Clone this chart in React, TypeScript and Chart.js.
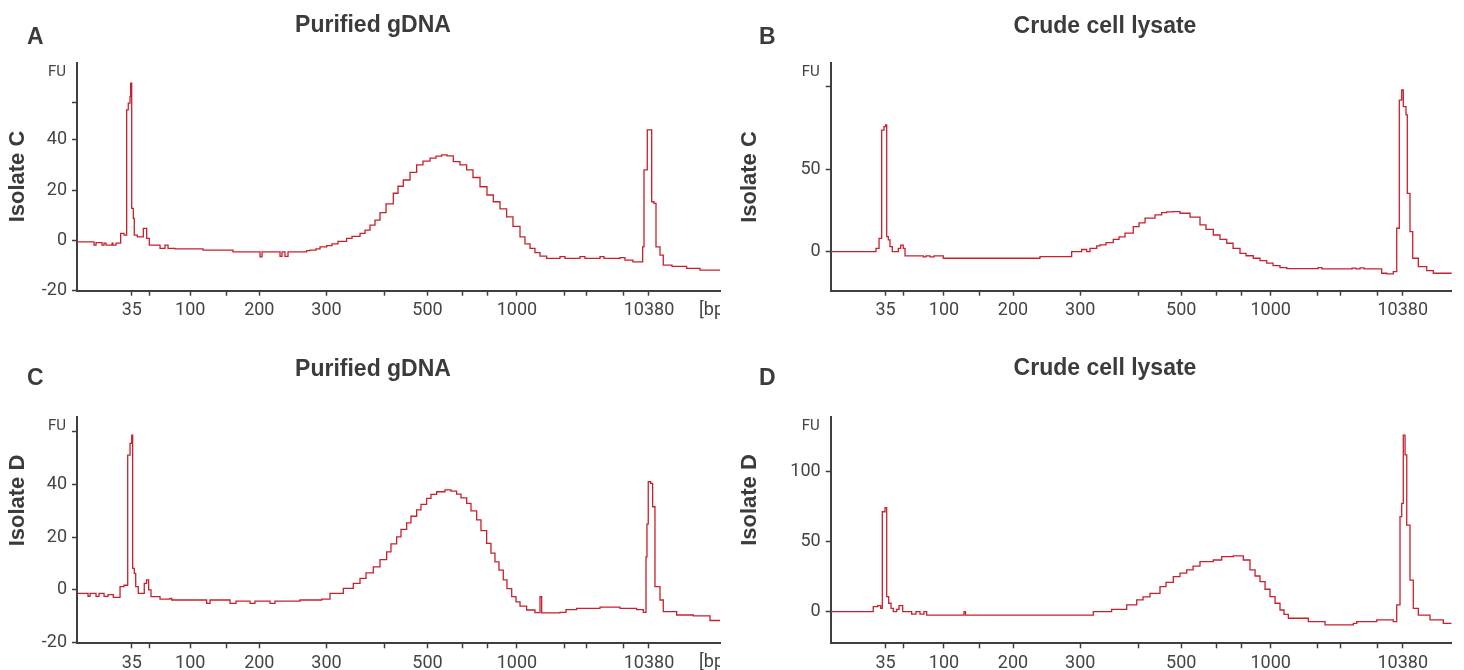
import React, { useEffect, useRef } from 'react';
import { Chart, registerables } from 'chart.js';

Chart.register(...registerables);

// ---- x axis (migration position, s) ----
const X_TICKS = [26.85, 29.06, 34.16, 38.63, 42.79, 51.19, 58.5, 63.81, 68.23, 71.33, 75.0, 80.88, 83.75, 88.34, 91.5];
const X_TICK_LABELS = ['35', '', '100', '', '200', '300', '', '500', '', '', '1000', '', '', '', '10380'];

// ---- y axes (FU) ----
const Y_TICKS_A = [-20, 0, 20, 40, 55];
const Y_LABELS_A = ['-20', '0', '20', '40', ''];
const Y_TICKS_B = [0, 50, 100];
const Y_LABELS_B = ['0', '50', ''];
const Y_TICKS_C = [-20, 0, 20, 40, 60];
const Y_LABELS_C = ['-20', '0', '20', '40', ''];
const Y_TICKS_D = [0, 50, 100];
const Y_LABELS_D = ['0', '50', '100'];

// ---- electropherogram traces: [position (s), FU] ----
const TRACE_A: [number, number][] = [
  [20.0, -0.7], [22.13, -2], [22.38, -1], [23.13, -2], [23.38, -1.2], [23.63, -2], [24.38, -1.2], [24.5, -2], [24.88, -1.2],
  [25.46, 2.7], [25.88, 2], [26.21, 52], [26.41, 54.7], [26.63, 57.3], [26.71, 62.7], [26.84, 12.7], [27.04, 8.7], [27.16, 2],
  [27.54, 1.3], [28.29, 4.7], [28.71, 0.7], [29.04, -2], [30.38, -3.3], [31.0, -2], [31.38, -3.3], [32.25, -3.5], [35.75, -4],
  [39.5, -4.7], [42.88, -6.7], [43.13, -4.7], [45.38, -6.5], [45.63, -4.7], [46.0, -6.5], [46.38, -4.7], [48.71, -4.2],
  [49.13, -4], [49.88, -3.5], [50.38, -2.7], [51.21, -2.2], [51.88, -1.5], [52.63, -0.5], [53.71, 0.7], [54.38, 1.5],
  [55.38, 2.7], [56.0, 4], [56.63, 6], [57.25, 8], [57.88, 11], [58.63, 14.5], [59.54, 18.7], [60.13, 21.5], [60.79, 24],
  [61.63, 27], [62.46, 30], [63.25, 31.5], [64.13, 32.7], [64.88, 33.5], [65.59, 34], [66.25, 33.6], [67.04, 31.3],
  [67.88, 30], [68.71, 28], [69.5, 25], [70.38, 21.3], [71.25, 18], [72.04, 15.3], [72.88, 12.5], [73.71, 9.3], [74.5, 5.5],
  [75.38, 1.3], [76.0, -1.5], [76.63, -3.3], [77.25, -5], [77.88, -6.4], [78.71, -7.3], [80.38, -6.6], [81.0, -7.3],
  [82.88, -6.6], [83.5, -7.3], [85.38, -6.6], [85.88, -7.3], [87.88, -7], [88.5, -8], [89.5, -8.7], [90.71, -2.7],
  [90.88, 28], [91.29, 44], [91.84, 15.3], [92.13, 14.7], [92.38, -2.7], [92.88, -6], [93.29, -10], [94.38, -10.5],
  [96.21, -11.3], [97.88, -12], [100.38, -12],
];

const TRACE_B: [number, number][] = [
  [20.0, 0], [25.66, 2], [26.04, 8], [26.37, 73.8], [26.66, 75.9], [26.87, 76.9], [27.0, 9.1], [27.2, 7.1], [27.41, 3],
  [27.7, 0], [28.45, 2], [28.75, 4], [29.07, 2], [29.29, -2.6], [31.57, -3.2], [31.91, -2.6], [32.41, -3.2], [32.91, -2.6],
  [34.07, -4], [46.16, -3], [50.12, 0], [51.37, 1.3], [52.0, 0], [52.41, 2], [53.25, 3.5], [53.66, 4.1], [54.41, 5.5],
  [55.32, 7.5], [56.04, 9], [56.79, 11.2], [57.82, 15.2], [58.54, 17.5], [59.29, 20.3], [60.54, 22.3], [61.37, 23.7],
  [62.0, 24.1], [62.79, 24.3], [63.66, 23.3], [64.91, 20.9], [66.16, 16.2], [66.91, 13.5], [67.82, 10.1], [68.66, 7.5],
  [69.5, 5.1], [70.29, 2], [71.16, -1], [71.91, -2.5], [72.82, -4], [73.66, -5.5], [74.5, -7], [75.29, -8.5], [76.16, -9.7],
  [77.0, -10.3], [80.91, -9.7], [81.41, -10.5], [85.16, -10], [85.66, -10.5], [86.16, -9.8], [86.66, -10.5], [88.87, -13.1],
  [89.5, -13.5], [90.32, -12.1], [90.75, 14.2], [91.07, 92], [91.37, 98.1], [91.57, 88], [91.91, 83], [92.07, 35.4],
  [92.41, 12.1], [92.75, -4], [93.45, -9.1], [94.5, -11.5], [95.32, -13.1], [97.62, -13.5],
];

const TRACE_C: [number, number][] = [
  [20.0, -1.3], [21.38, -2.4], [21.63, -1.3], [22.38, -2.4], [22.75, -1.3], [23.38, -2.4], [23.88, -1.8], [24.54, -2.8],
  [25.38, 1.3], [25.88, 1.8], [26.34, 51.2], [26.63, 55.7], [26.84, 58.8], [26.96, 8.2], [27.16, 6.3], [27.34, 1.3],
  [27.66, -1.3], [28.41, 2.5], [28.71, 3.8], [28.96, 0], [29.25, -2.5], [30.38, -3.5], [31.63, -3.2], [31.84, -3.8],
  [36.21, -5.1], [36.63, -3.8], [39.13, -5.1], [39.88, -4.2], [41.63, -5.1], [42.25, -4.2], [44.13, -5.1], [44.75, -4.2],
  [47.88, -3.8], [50.59, -3.5], [51.63, -1.3], [53.29, 0.6], [54.54, 2.5], [55.38, 4.4], [56.13, 6.5], [57.04, 8.8],
  [57.88, 11.5], [58.71, 14.5], [59.25, 17.5], [59.96, 20.2], [60.5, 23], [61.21, 25.5], [61.75, 28], [62.46, 30.4],
  [63.0, 32.5], [63.71, 34.8], [64.25, 36.3], [64.96, 37.3], [66.0, 38], [66.75, 37.5], [67.46, 36.4], [68.0, 35],
  [68.71, 32.9], [69.25, 30], [69.96, 26.6], [70.5, 22.5], [71.21, 17.7], [71.75, 14], [72.25, 10.7], [72.75, 7.5],
  [73.29, 3.8], [73.75, 0.5], [74.34, -2.5], [74.88, -4.5], [75.38, -6.1], [76.21, -7.6], [77.25, -8.6], [77.88, -2.5],
  [78.09, -8.7], [80.38, -8.5], [81.13, -7.5], [82.46, -7], [85.38, -6.5], [87.88, -7], [89.96, -7.5], [90.79, -8.5],
  [91.13, 12.6], [91.25, 25], [91.41, 41.1], [91.71, 40.5], [91.96, 31.6], [92.25, 1.3], [92.88, -3.8], [93.29, -8.2],
  [94.96, -9.5], [97.04, -9.8], [99.13, -11.6], [100.38, -11.6],
];

const TRACE_D: [number, number][] = [
  [20.0, 0], [25.32, 3.6], [25.87, 4.3], [26.25, 2.4], [26.45, 71.4], [26.79, 74.3], [27.0, 10.7], [27.25, 6], [27.54, 2.4],
  [27.82, 0], [28.25, 1.7], [28.54, 4.3], [29.0, 0], [30.12, -1.7], [30.66, 0], [31.16, -1.7], [31.66, 0], [32.0, -2.4],
  [36.66, 0], [36.85, -2.4], [52.82, 0], [55.12, 1.7], [57.0, 4.8], [58.25, 8.4], [59.04, 10.5], [59.91, 13.1],
  [61.16, 17.9], [61.91, 21], [62.82, 25], [63.66, 27.5], [64.5, 29.8], [65.29, 32.5], [66.16, 35.7], [67.82, 36.9],
  [68.87, 39.3], [70.32, 39.8], [71.57, 36.9], [72.41, 29.8], [73.04, 25.5], [73.66, 21.4], [74.29, 16], [74.91, 10.7],
  [75.54, 6], [76.16, 1.2], [76.66, -2], [77.2, -4.7], [79.7, -7.1], [81.79, -9.5], [85.32, -8.3], [85.75, -7.1],
  [88.25, -5.9], [90.32, -7.1], [90.75, 4.8], [91.16, 67.9], [91.37, 77.4], [91.57, 126.2], [91.79, 112], [92.0, 61.9],
  [92.41, 22.6], [92.82, 2.4], [93.45, -2.4], [94.91, -5.9], [96.57, -8.3], [97.62, -8.3],
];

const TEXT_DARK = '#3b3b3b';
const TICK_TEXT = '#444444';
const AXIS_COLOR = '#3f3f3f';
const TRACE_COLOR = '#c8202c';
const TICK_FONT = 'Roboto, "Liberation Sans", Arial, sans-serif';
const BOLD_FONT = '"Liberation Sans", Arial, sans-serif';

type Panel = {
  letter: string; title: string; yTitle: string; trace: [number, number][];
  yTicks: number[]; yLabels: string[]; yMin: number; yMax: number; xMax: number;
  left: number; top: number; width: number; height: number;
  axisW: number; axisH: number; padTop: number; padRight: number;
  letterY: number; titleY: number; yTitleY: number; bp: boolean;
};

const PANELS: Panel[] = [
  { letter: 'A', title: 'Purified gDNA', yTitle: 'Isolate C', trace: TRACE_A, yTicks: Y_TICKS_A, yLabels: Y_LABELS_A,
    yMin: -20.2, yMax: 70.7, xMax: 100.38, left: 0, top: 0, width: 722, height: 335, axisW: 77, axisH: 44.3,
    padTop: 63, padRight: 2, letterY: 43.5, titleY: 32.3, yTitleY: 176.5, bp: true },
  { letter: 'B', title: 'Crude cell lysate', yTitle: 'Isolate C', trace: TRACE_B, yTicks: Y_TICKS_B, yLabels: Y_LABELS_B,
    yMin: -23.7, yMax: 114.3, xMax: 97.62, left: 732, top: 0, width: 732, height: 335, axisW: 98.7, axisH: 44.3,
    padTop: 63.3, padRight: 12.3, letterY: 43.5, titleY: 33, yTitleY: 177, bp: false },
  { letter: 'C', title: 'Purified gDNA', yTitle: 'Isolate D', trace: TRACE_C, yTicks: Y_TICKS_C, yLabels: Y_LABELS_C,
    yMin: -20.25, yMax: 65.8, xMax: 100.38, left: 0, top: 335, width: 722, height: 335, axisW: 77, axisH: 26.7,
    padTop: 81.7, padRight: 2, letterY: 50, titleY: 40.7, yTitleY: 165.5, bp: true },
  { letter: 'D', title: 'Crude cell lysate', yTitle: 'Isolate D', trace: TRACE_D, yTicks: Y_TICKS_D, yLabels: Y_LABELS_D,
    yMin: -22.6, yMax: 139.3, xMax: 97.62, left: 732, top: 335, width: 732, height: 335, axisW: 98.7, axisH: 26.7,
    padTop: 81.7, padRight: 12.3, letterY: 50, titleY: 40, yTitleY: 165, bp: false },
];

const panelTextPlugin = {
  id: 'panelText',
  afterDraw(chart: any, _args: any, opts: any) {
    const { ctx, chartArea } = chart;
    ctx.save();
    ctx.fillStyle = TEXT_DARK;
    ctx.textBaseline = 'alphabetic';
    // panel letter
    ctx.font = `bold 23px ${BOLD_FONT}`;
    ctx.textAlign = 'left';
    ctx.fillText(opts.letter, 27, opts.letterY);
    // panel title
    ctx.font = `bold 23px ${BOLD_FONT}`;
    ctx.textAlign = 'center';
    ctx.fillText(opts.title, 373, opts.titleY);
    // FU unit
    ctx.fillStyle = TICK_TEXT;
    ctx.font = `15px ${TICK_FONT}`;
    ctx.textAlign = 'right';
    ctx.fillText('FU', chartArea.left - 11, chartArea.top + 13);
    // bp unit (clipped at the plot edge)
    if (opts.bp) {
      ctx.save();
      ctx.beginPath();
      ctx.rect(0, 0, chartArea.right, chart.height);
      ctx.clip();
      ctx.font = `18px ${TICK_FONT}`;
      ctx.textAlign = 'left';
      ctx.fillText('[bp]', chartArea.right - 21, chartArea.bottom + 24);
      ctx.restore();
    }
    // y title (rotated)
    ctx.fillStyle = TEXT_DARK;
    ctx.translate(17.5, opts.yTitleY);
    ctx.rotate(-Math.PI / 2);
    ctx.font = `bold 22px ${BOLD_FONT}`;
    ctx.textAlign = 'center';
    ctx.textBaseline = 'middle';
    ctx.fillText(opts.yTitle, 0, 0);
    ctx.restore();
  },
};

function PanelChart({ p }: { p: Panel }) {
  const ref = useRef<HTMLCanvasElement | null>(null);
  useEffect(() => {
    if (!ref.current) return;
    const grid = {
      display: true, drawOnChartArea: false, drawTicks: true, tickLength: 5,
      tickColor: AXIS_COLOR, tickWidth: 1.5,
    };
    const border = { display: true, color: AXIS_COLOR, width: 2 };
    const chart = new Chart(ref.current, {
      type: 'line',
      data: {
        datasets: [{
          data: p.trace.map(([x, y]) => ({ x, y })),
          borderColor: TRACE_COLOR,
          borderWidth: 1.3,
          pointRadius: 0,
          stepped: 'before',
          fill: false,
        }],
      },
      options: {
        animation: false,
        responsive: true,
        maintainAspectRatio: false,
        layout: { padding: { top: p.padTop, right: p.padRight, left: 0, bottom: 0 } },
        plugins: {
          legend: { display: false },
          tooltip: { enabled: false },
          title: { display: false },
          panelText: { letter: p.letter, title: p.title, yTitle: p.yTitle, letterY: p.letterY, titleY: p.titleY, yTitleY: p.yTitleY, bp: p.bp },
        } as any,
        scales: {
          x: {
            type: 'linear', min: 20, max: p.xMax,
            afterBuildTicks: (s: any) => { s.ticks = X_TICKS.map((v) => ({ value: v })); },
            afterFit: (s: any) => { s.height = p.axisH; },
            ticks: {
              autoSkip: false, maxRotation: 0, minRotation: 0, padding: 4, color: TICK_TEXT,
              font: { family: TICK_FONT, size: 18 },
              callback: (_v: any, i: number) => X_TICK_LABELS[i] ?? '',
            },
            grid, border,
          },
          y: {
            type: 'linear', min: p.yMin, max: p.yMax,
            afterBuildTicks: (s: any) => { s.ticks = p.yTicks.map((v) => ({ value: v })); },
            afterFit: (s: any) => { s.width = p.axisW; },
            ticks: {
              autoSkip: false, padding: 5, color: TICK_TEXT,
              font: { family: TICK_FONT, size: 18 },
              callback: (_v: any, i: number) => p.yLabels[i] ?? '',
            },
            grid, border,
          },
        },
      } as any,
      plugins: [panelTextPlugin],
    });
    return () => chart.destroy();
  }, [p]);
  return (
    <div style={{ position: 'absolute', left: p.left, top: p.top, width: p.width, height: p.height }}>
      <canvas ref={ref} />
    </div>
  );
}

export default function App() {
  return (
    <div style={{ position: 'absolute', left: 0, top: 0, width: 1464, height: 670, background: '#ffffff', overflow: 'hidden' }}>
      {PANELS.map((p) => <PanelChart key={p.letter} p={p} />)}
    </div>
  );
}
